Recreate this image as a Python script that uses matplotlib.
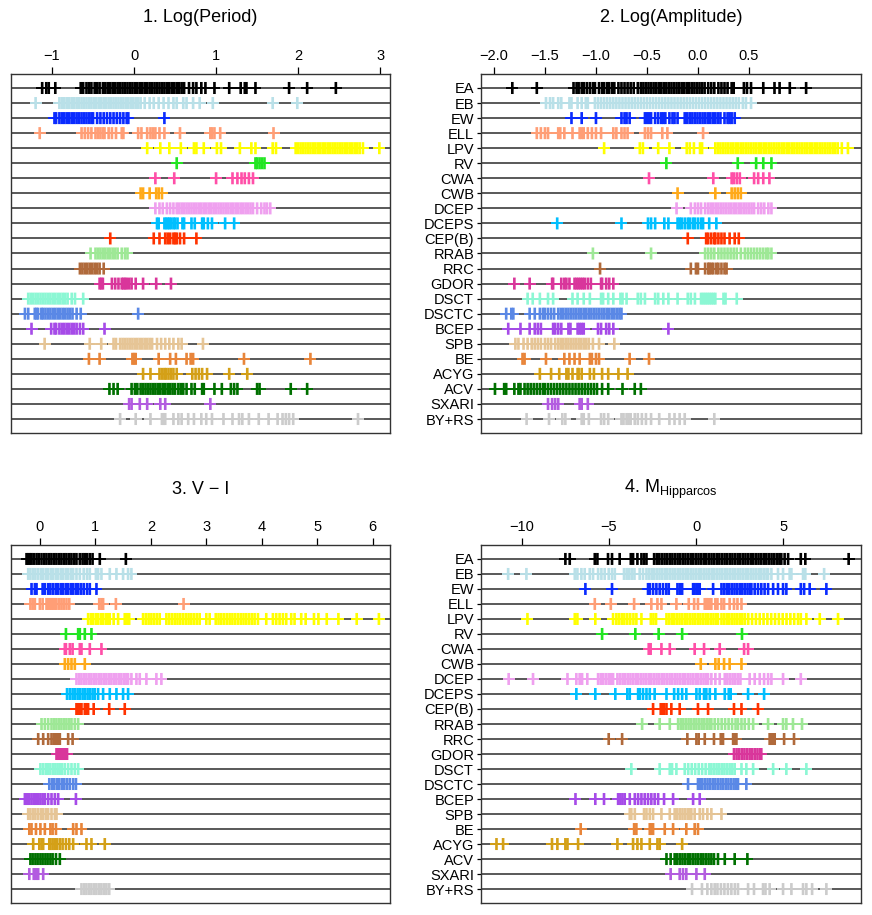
import matplotlib
matplotlib.use('Agg')
import matplotlib.pyplot as plt

plt.rcParams['font.family'] = ['Liberation Sans', 'DejaVu Sans']

classes = ["EA", "EB", "EW", "ELL", "LPV", "RV", "CWA", "CWB", "DCEP", "DCEPS",
           "CEP(B)", "RRAB", "RRC", "GDOR", "DSCT", "DSCTC", "BCEP", "SPB", "BE",
           "ACYG", "ACV", "SXARI", "BY+RS"]
colors = ["#000000", "#B9E0E8", "#0A2BFF", "#FF9E76", "#FFFF00", "#22E622",
          "#FF4FA8", "#FFAA1A", "#EFA0EF", "#00BFFF", "#FF3300", "#9EE896",
          "#B06A3B", "#D9369B", "#8CF7D4", "#5A88E6", "#A64BE8", "#E6C596",
          "#E8853A", "#D4A017", "#007000", "#B35CE0", "#CCCCCC"]

# 1. Log(Period) -- one list per class, same order as `classes`
log_period = [
    [-1.12, -1.07, -1.04, -0.96, -0.65, -0.62, -0.58, -0.55, -0.52, -0.48, -0.45, -0.42, -0.38, -0.35, -0.32,
     -0.29, -0.26, -0.23, -0.20, -0.17, -0.14, -0.11, -0.08, -0.05, -0.02, 0.01, 0.04, 0.07, 0.10, 0.13, 0.16,
     0.19, 0.22, 0.25, 0.28, 0.31, 0.34, 0.37, 0.40, 0.43, 0.46, 0.49, 0.52, 0.55, 0.58, 0.61, 0.67, 0.72, 0.76,
     0.82, 0.87, 0.98, 1.16, 1.30, 1.35, 1.37, 1.48, 1.89, 2.11, 2.46],
    [-1.20, -0.91, -0.88, -0.85, -0.82, -0.79, -0.76, -0.73, -0.70, -0.67, -0.64, -0.61, -0.58, -0.55, -0.52,
     -0.49, -0.46, -0.43, -0.40, -0.37, -0.34, -0.31, -0.28, -0.25, -0.22, -0.19, -0.16, -0.13, -0.10, -0.07,
     -0.04, -0.01, 0.02, 0.05, 0.08, 0.13, 0.19, 0.24, 0.30, 0.36, 0.42, 0.48, 0.52, 0.60, 0.64, 0.72, 0.80,
     0.96, 1.69, 1.99],
    [-0.97, -0.95, -0.91, -0.88, -0.85, -0.82, -0.79, -0.76, -0.73, -0.70, -0.67, -0.64, -0.61, -0.58, -0.55,
     -0.52, -0.50, -0.45, -0.41, -0.37, -0.33, -0.29, -0.25, -0.21, -0.17, -0.13, -0.09, -0.07, 0.37],
    [-1.15, -0.64, -0.60, -0.56, -0.52, -0.47, -0.44, -0.41, -0.38, -0.36, -0.31, -0.27, -0.22, -0.15, -0.13,
     0.05, 0.09, 0.16, 0.20, 0.23, 0.26, 0.31, 0.37, 0.56, 0.93, 0.95, 0.98, 1.05, 1.70],
    [0.16, 0.32, 0.43, 0.57, 0.73, 0.76, 0.85, 1.01, 1.06, 1.29, 1.43, 1.48, 1.69, 1.73, 1.97, 2.00, 2.03, 2.06,
     2.09, 2.12, 2.15, 2.18, 2.21, 2.24, 2.27, 2.30, 2.33, 2.36, 2.39, 2.42, 2.45, 2.48, 2.51, 2.54, 2.57, 2.60,
     2.63, 2.66, 2.69, 2.72, 2.75, 2.79, 2.99],
    [0.52, 1.48, 1.50, 1.53, 1.56, 1.59],
    [0.26, 0.49, 1.00, 1.20, 1.26, 1.31, 1.35, 1.40, 1.45],
    [0.08, 0.11, 0.19, 0.27, 0.30, 0.34],
    [0.26, 0.31, 0.35, 0.40, 0.44, 0.48, 0.52, 0.55, 0.58, 0.61, 0.64, 0.67, 0.70, 0.73, 0.76, 0.79, 0.82, 0.85,
     0.88, 0.91, 0.94, 0.97, 1.00, 1.03, 1.06, 1.09, 1.12, 1.15, 1.18, 1.21, 1.24, 1.27, 1.30, 1.33, 1.36, 1.39,
     1.42, 1.45, 1.50, 1.55, 1.59, 1.62, 1.66],
    [0.28, 0.30, 0.37, 0.39, 0.41, 0.43, 0.45, 0.48, 0.50, 0.53, 0.59, 0.61, 0.70, 0.74, 0.83, 0.85, 0.90, 0.95,
     1.11, 1.22],
    [-0.29, 0.24, 0.31, 0.38, 0.41, 0.44, 0.48, 0.50, 0.52, 0.56, 0.61, 0.76],
    [-0.53, -0.47, -0.44, -0.41, -0.38, -0.35, -0.32, -0.29, -0.26, -0.23, -0.20, -0.15, -0.11, -0.08],
    [-0.66, -0.63, -0.60, -0.57, -0.54, -0.51, -0.48, -0.45, -0.42, -0.37],
    [-0.42, -0.40, -0.38, -0.27, -0.23, -0.19, -0.15, -0.13, -0.11, -0.09, -0.06, -0.03, 0.02, 0.11, 0.27, 0.45],
    [-1.29, -1.26, -1.23, -1.20, -1.17, -1.14, -1.11, -1.08, -1.05, -1.02, -0.99, -0.96, -0.93, -0.90, -0.87,
     -0.84, -0.81, -0.76, -0.72, -0.62],
    [-1.33, -1.29, -1.21, -1.19, -1.17, -1.13, -1.11, -1.08, -1.05, -1.02, -0.99, -0.96, -0.93, -0.90, -0.87,
     -0.84, -0.81, -0.78, -0.75, -0.70, -0.65, 0.05],
    [-1.25, -1.01, -0.97, -0.95, -0.91, -0.88, -0.85, -0.82, -0.79, -0.76, -0.73, -0.70, -0.66, -0.62, -0.36],
    [-1.09, -0.54, -0.40, -0.25, -0.22, -0.17, -0.14, -0.11, -0.08, -0.05, -0.02, 0.01, 0.04, 0.07, 0.10, 0.13,
     0.16, 0.19, 0.22, 0.28, 0.33, 0.38, 0.43, 0.48, 0.54, 0.58, 0.84],
    [-0.55, -0.42, -0.02, 0.00, 0.02, 0.30, 0.44, 0.51, 0.64, 0.69, 0.72, 1.34, 2.15],
    [0.11, 0.20, 0.31, 0.34, 0.37, 0.39, 0.42, 0.45, 0.48, 0.52, 0.71, 0.75, 0.79, 0.83, 0.89, 1.16, 1.38],
    [-0.30, -0.25, -0.20, -0.03, 0.01, 0.04, 0.08, 0.11, 0.14, 0.17, 0.20, 0.23, 0.26, 0.29, 0.32, 0.35, 0.38,
     0.41, 0.44, 0.47, 0.50, 0.54, 0.57, 0.60, 0.64, 0.70, 0.74, 0.83, 0.85, 0.98, 1.07, 1.18, 1.22, 1.26, 1.50,
     1.53, 1.91, 2.11],
    [-0.06, -0.03, 0.07, 0.16, 0.32, 0.38, 0.93],
    [-0.17, 0.02, 0.20, 0.34, 0.36, 0.38, 0.48, 0.54, 0.58, 0.66, 0.73, 0.82, 0.88, 0.95, 1.09, 1.20, 1.28, 1.32,
     1.40, 1.52, 1.64, 1.75, 1.81, 1.85, 1.89, 1.94, 2.73],
]

# 2. Log(Amplitude)
log_amplitude = [
    [-1.82, -1.58, -1.22, -1.19, -1.17, -1.14, -1.12, -1.09, -1.06, -1.03, -1.01, -0.97, -0.94, -0.92, -0.89,
     -0.87, -0.84, -0.82, -0.78, -0.75, -0.72, -0.69, -0.66, -0.63, -0.59, -0.56, -0.535, -0.51, -0.485, -0.46,
     -0.435, -0.41, -0.385, -0.36, -0.335, -0.31, -0.285, -0.26, -0.235, -0.21, -0.185, -0.16, -0.135, -0.11,
     -0.085, -0.06, -0.035, -0.01, 0.015, 0.04, 0.065, 0.10, 0.13, 0.16, 0.20, 0.23, 0.26, 0.29, 0.33, 0.35,
     0.45, 0.48, 0.52, 0.64, 0.75, 0.80, 0.90, 1.06],
    [-1.49, -1.45, -1.42, -1.37, -1.34, -1.26, -1.24, -1.18, -1.14, -1.10, -1.08, -1.01, -0.98, -0.95, -0.92,
     -0.89, -0.86, -0.83, -0.80, -0.77, -0.74, -0.71, -0.68, -0.65, -0.62, -0.59, -0.56, -0.53, -0.50, -0.47,
     -0.44, -0.41, -0.38, -0.35, -0.32, -0.29, -0.26, -0.23, -0.20, -0.17, -0.14, -0.11, -0.08, -0.05, -0.02,
     0.01, 0.04, 0.07, 0.10, 0.13, 0.16, 0.19, 0.22, 0.25, 0.28, 0.31, 0.34, 0.37, 0.40, 0.44, 0.47, 0.52],
    [-1.24, -1.14, -1.00, -0.75, -0.72, -0.70, -0.67, -0.52, -0.50, -0.48, -0.46, -0.42, -0.39, -0.36, -0.34,
     -0.32, -0.28, -0.25, -0.23, -0.20, -0.13, -0.105, -0.08, -0.055, -0.03, -0.005, 0.02, 0.045, 0.07, 0.095,
     0.12, 0.145, 0.17, 0.195, 0.22, 0.26, 0.29, 0.31, 0.33, 0.36],
    [-1.58, -1.54, -1.50, -1.47, -1.37, -1.35, -1.31, -1.23, -1.16, -1.14, -1.12, -1.08, -1.04, -1.00, -0.95,
     -0.83, -0.80, -0.75, -0.72, -0.69, -0.52, -0.49, -0.46, -0.35, -0.30, 0.05],
    [-0.92, -0.57, -0.54, -0.39, -0.28, -0.11, -0.08, -0.04, 0.02, 0.04, 0.17, 0.195, 0.22, 0.245, 0.27, 0.295,
     0.32, 0.345, 0.37, 0.395, 0.42, 0.445, 0.47, 0.495, 0.52, 0.545, 0.57, 0.595, 0.62, 0.645, 0.67, 0.695,
     0.72, 0.745, 0.77, 0.795, 0.82, 0.845, 0.87, 0.895, 0.92, 0.945, 0.97, 0.995, 1.02, 1.045, 1.07, 1.095,
     1.12, 1.145, 1.17, 1.195, 1.22, 1.245, 1.27, 1.295, 1.32, 1.345, 1.37, 1.41, 1.47],
    [-0.31, 0.39, 0.57, 0.64, 0.72],
    [-0.48, 0.15, 0.33, 0.35, 0.38, 0.41, 0.55, 0.59, 0.64, 0.70],
    [-0.20, 0.17, 0.33, 0.36, 0.39, 0.42],
    [-0.21, -0.07, -0.03, 0.00, 0.03, 0.07, 0.10, 0.125, 0.15, 0.175, 0.20, 0.225, 0.25, 0.275, 0.30, 0.325,
     0.35, 0.375, 0.40, 0.425, 0.45, 0.475, 0.50, 0.525, 0.55, 0.59, 0.62, 0.65, 0.69, 0.72],
    [-1.38, -0.75, -0.49, -0.46, -0.42, -0.33, -0.29, -0.20, -0.18, -0.16, -0.13, -0.10, -0.08, -0.05, -0.03,
     0.00, 0.03, 0.05, 0.11, 0.18],
    [-0.10, 0.08, 0.10, 0.13, 0.16, 0.17, 0.20, 0.23, 0.26, 0.31, 0.36, 0.40],
    [-1.03, -0.46, 0.07, 0.10, 0.13, 0.16, 0.20, 0.23, 0.26, 0.29, 0.32, 0.35, 0.38, 0.42, 0.46, 0.49, 0.52,
     0.55, 0.58, 0.61, 0.64, 0.67, 0.69, 0.72],
    [-0.96, -0.07, -0.02, 0.00, 0.07, 0.10, 0.11, 0.13, 0.15, 0.18, 0.20, 0.23, 0.26, 0.28],
    [-1.80, -1.65, -1.43, -1.42, -1.34, -1.31, -1.29, -1.26, -1.21, -1.19, -1.17, -1.15, -1.13, -1.11, -1.08,
     -1.05, -0.95, -0.94, -0.90, -0.87, -0.83],
    [-1.67, -1.62, -1.55, -1.47, -1.42, -1.23, -1.18, -1.12, -1.06, -0.95, -0.93, -0.88, -0.83, -0.76, -0.74,
     -0.70, -0.59, -0.56, -0.52, -0.42, -0.39, -0.34, -0.29, -0.20, -0.10, -0.07, -0.03, 0.03, 0.05, 0.07, 0.09,
     0.11, 0.13, 0.15, 0.17, 0.25, 0.27, 0.38],
    [-1.88, -1.83, -1.81, -1.65, -1.60, -1.55, -1.52, -1.50, -1.47, -1.44, -1.41, -1.37, -1.345, -1.32, -1.295,
     -1.27, -1.245, -1.22, -1.195, -1.17, -1.145, -1.12, -1.095, -1.07, -1.045, -1.02, -0.995, -0.97, -0.945,
     -0.92, -0.895, -0.87, -0.845, -0.82, -0.795, -0.77, -0.75],
    [-1.86, -1.74, -1.65, -1.60, -1.57, -1.54, -1.42, -1.40, -1.37, -1.34, -1.27, -1.25, -1.18, -1.16, -1.14,
     -1.12, -0.98, -0.95, -0.90, -0.87, -0.83, -0.29],
    [-1.79, -1.76, -1.71, -1.67, -1.63, -1.60, -1.57, -1.54, -1.50, -1.47, -1.44, -1.40, -1.37, -1.345, -1.32,
     -1.295, -1.27, -1.245, -1.22, -1.195, -1.17, -1.145, -1.12, -1.095, -1.07, -1.03, -0.97, -0.82],
    [-1.72, -1.70, -1.49, -1.31, -1.26, -1.21, -1.16, -1.06, -1.04, -1.00, -0.97, -0.67, -0.48],
    [-1.55, -1.44, -1.36, -1.29, -1.27, -1.23, -1.18, -1.17, -1.14, -1.06, -1.02, -0.94, -0.88, -0.78, -0.69],
    [-1.99, -1.90, -1.88, -1.80, -1.76, -1.74, -1.70, -1.67, -1.64, -1.61, -1.58, -1.55, -1.52, -1.50, -1.47,
     -1.44, -1.41, -1.38, -1.35, -1.32, -1.29, -1.26, -1.23, -1.20, -1.17, -1.14, -1.11, -1.08, -1.05, -1.02,
     -0.99, -0.94, -0.88, -0.74, -0.62, -0.56],
    [-1.47, -1.43, -1.40, -1.37, -1.16, -1.14, -1.08],
    [-1.68, -1.46, -1.33, -1.30, -1.14, -1.12, -1.07, -0.95, -0.92, -0.88, -0.75, -0.73, -0.70, -0.68, -0.66,
     -0.62, -0.59, -0.55, -0.51, -0.46, -0.38, -0.28, -0.23, -0.18, -0.13, 0.16],
]

# 3. V - I colour
v_minus_i = [
    [-0.24, -0.21, -0.18, -0.15, -0.11, -0.06, -0.02, 0.03, 0.08, 0.12, 0.17, 0.21, 0.26, 0.30, 0.35, 0.39,
     0.44, 0.48, 0.53, 0.57, 0.62, 0.66, 0.72, 0.77, 0.81, 0.85, 0.90, 0.95, 1.08, 1.55],
    [-0.21, -0.17, -0.12, -0.08, -0.03, 0.02, 0.06, 0.11, 0.15, 0.20, 0.24, 0.29, 0.33, 0.38, 0.42, 0.47, 0.51,
     0.56, 0.60, 0.66, 0.72, 0.79, 0.85, 0.90, 1.01, 1.05, 1.11, 1.26, 1.38, 1.50, 1.59, 1.65],
    [-0.15, -0.09, -0.06, 0.05, 0.09, 0.15, 0.19, 0.24, 0.29, 0.33, 0.38, 0.42, 0.47, 0.51, 0.56, 0.60, 0.65,
     0.69, 0.74, 0.79, 0.85, 0.90, 1.02],
    [-0.17, -0.13, -0.09, 0.00, 0.05, 0.12, 0.15, 0.18, 0.21, 0.24, 0.27, 0.30, 0.35, 0.39, 0.43, 0.48, 0.53,
     1.07, 1.11, 1.14, 1.37, 2.59],
    [0.87, 0.92, 0.96, 1.01, 1.05, 1.10, 1.14, 1.19, 1.23, 1.26, 1.33, 1.41, 1.53, 1.57, 1.61, 1.86, 1.91, 1.96,
     2.01, 2.06, 2.11, 2.16, 2.28, 2.33, 2.38, 2.43, 2.48, 2.53, 2.58, 2.63, 2.68, 2.73, 2.78, 2.83, 2.88, 3.00,
     3.06, 3.17, 3.22, 3.27, 3.32, 3.37, 3.42, 3.47, 3.52, 3.57, 3.62, 3.67, 3.72, 3.77, 3.82, 3.87, 3.93, 4.08,
     4.20, 4.26, 4.32, 4.38, 4.44, 4.53, 4.59, 4.71, 4.79, 4.94, 5.02, 5.17, 5.38, 5.71, 6.11],
    [0.47, 0.69, 0.72, 0.81, 0.93],
    [0.45, 0.47, 0.54, 0.59, 0.72, 0.75, 0.90, 1.11],
    [0.45, 0.51, 0.57, 0.63, 0.81],
    [0.66, 0.71, 0.75, 0.80, 0.84, 0.89, 0.93, 0.98, 1.02, 1.07, 1.11, 1.16, 1.20, 1.25, 1.29, 1.34, 1.38, 1.43,
     1.47, 1.52, 1.56, 1.59, 1.65, 1.74, 1.80, 1.92, 2.10, 2.19],
    [0.49, 0.54, 0.59, 0.63, 0.68, 0.72, 0.77, 0.81, 0.86, 0.90, 0.95, 0.99, 1.05, 1.14, 1.26, 1.38, 1.50, 1.59],
    [0.66, 0.69, 0.72, 0.75, 0.81, 0.84, 0.87, 0.97, 1.25, 1.53],
    [0.03, 0.09, 0.15, 0.21, 0.26, 0.30, 0.35, 0.39, 0.44, 0.48, 0.53, 0.57, 0.63, 0.69],
    [-0.03, 0.06, 0.15, 0.21, 0.25, 0.29, 0.33, 0.36, 0.51, 0.59],
    [0.30, 0.33, 0.36, 0.39, 0.42, 0.45, 0.49],
    [0.01, 0.06, 0.11, 0.15, 0.19, 0.24, 0.28, 0.32, 0.36, 0.40, 0.45, 0.51, 0.57, 0.63, 0.69],
    [0.17, 0.22, 0.26, 0.31, 0.35, 0.40, 0.44, 0.49, 0.54, 0.60, 0.65],
    [-0.27, -0.23, -0.19, -0.15, -0.11, -0.07, -0.03, 0.01, 0.05, 0.09, 0.15, 0.21, 0.27, 0.33, 0.65],
    [-0.21, -0.17, -0.12, -0.08, -0.03, 0.02, 0.06, 0.11, 0.15, 0.21, 0.27, 0.30],
    [-0.19, -0.15, -0.07, 0.01, 0.09, 0.19, 0.23, 0.29, 0.60, 0.66, 0.75],
    [-0.12, -0.01, 0.03, 0.06, 0.17, 0.19, 0.23, 0.27, 0.31, 0.36, 0.41, 0.47, 0.53, 0.60, 0.84, 0.93, 1.17],
    [-0.17, -0.13, -0.08, -0.04, 0.01, 0.05, 0.10, 0.14, 0.19, 0.23, 0.29, 0.36],
    [-0.19, -0.11, -0.07, -0.03, 0.06],
    [0.75, 0.80, 0.84, 0.89, 0.93, 0.98, 1.02, 1.07, 1.11, 1.16, 1.20, 1.25],
]

# 4. M_Hipparcos (absolute magnitude)
abs_mag = [
    [-7.51, -7.26, -5.82, -5.67, -5.06, -4.83, -4.39, -3.75, -3.62, -3.37, -3.14, -2.99, -2.85, -2.41, -2.26,
     -2.11, -1.96, -1.81, -1.66, -1.51, -1.36, -1.21, -1.06, -0.91, -0.76, -0.61, -0.46, -0.31, -0.16, -0.01,
     0.14, 0.29, 0.44, 0.59, 0.74, 0.89, 1.04, 1.19, 1.34, 1.49, 1.64, 1.79, 1.94, 2.09, 2.24, 2.39, 2.54, 2.69,
     2.84, 2.99, 3.14, 3.29, 3.44, 3.59, 3.74, 3.89, 4.04, 4.19, 4.34, 4.49, 4.64, 4.79, 4.90, 5.09, 5.29, 6.02,
     6.28, 8.77],
    [-10.80, -9.75, -6.97, -6.82, -6.59, -6.40, -6.11, -5.92, -5.63, -5.44, -5.25, -5.02, -4.83, -4.67, -4.14,
     -3.99, -3.84, -3.69, -3.54, -3.24, -3.05, -2.85, -2.70, -2.55, -2.40, -2.25, -2.10, -1.95, -1.80, -1.65,
     -1.50, -1.35, -1.20, -1.05, -0.90, -0.75, -0.60, -0.45, -0.30, -0.15, 0.00, 0.15, 0.30, 0.45, 0.60, 0.75,
     0.90, 1.05, 1.20, 1.35, 1.50, 1.65, 1.80, 1.95, 2.10, 2.25, 2.40, 2.55, 2.70, 2.85, 3.00, 3.15, 3.30, 3.45,
     3.60, 3.75, 3.90, 4.05, 4.14, 4.33, 4.71, 5.00, 5.38, 5.48, 6.15, 6.28, 7.36],
    [-6.36, -4.83, -2.76, -2.66, -2.47, -2.28, -2.09, -1.90, -1.71, -1.57, -1.07, -0.94, -0.80, -0.17, -0.10,
     0.02, 0.10, 0.21, 0.98, 1.46, 1.61, 1.76, 1.91, 2.06, 2.21, 2.36, 2.51, 2.66, 2.81, 2.96, 3.11, 3.18, 3.37,
     3.56, 3.75, 3.94, 4.14, 4.43, 4.71, 5.00, 5.19, 6.02, 6.21, 6.53, 7.49],
    [-5.82, -4.90, -3.56, -2.57, -2.22, -1.99, -1.13, -0.42, -0.11, 0.11, 0.50, 0.60, 0.69, 0.79, 0.88, 1.11,
     1.23, 1.46, 1.61, 1.93, 2.18, 2.38, 2.61],
    [-9.69, -6.97, -6.82, -5.79, -4.77, -4.58, -4.43, -4.27, -4.12, -3.95, -3.78, -3.60, -3.43, -3.14, -2.60,
     -2.45, -2.30, -1.70, -1.55, -1.40, -1.25, -1.10, -0.95, -0.80, -0.65, -0.50, -0.35, -0.20, -0.05, 0.10,
     0.25, 0.40, 0.55, 0.70, 0.85, 1.00, 1.15, 1.26, 1.46, 1.61, 1.76, 1.91, 2.06, 2.21, 2.36, 2.51, 2.66, 2.81,
     3.00, 3.22, 3.44, 3.66, 3.88, 4.10, 4.32, 4.54, 4.76, 4.98, 5.20, 5.42, 5.64, 5.86, 6.02, 6.34, 7.11, 8.16],
    [-5.40, -3.49, -2.15, -0.80, 2.64],
    [-2.72, -2.61, -1.99, -1.51, -0.08, 0.46, 1.36, 2.76, 2.99],
    [0.27, 1.11, 1.30, 1.61, 1.93, 2.61],
    [-10.77, -9.37, -7.39, -6.88, -6.69, -6.55, -6.25, -5.63, -5.48, -5.33, -5.17, -5.02, -4.87, -4.77, -4.52,
     -4.37, -4.22, -4.07, -3.92, -3.77, -3.62, -3.47, -3.32, -3.17, -3.02, -2.87, -2.72, -2.57, -2.42, -2.27,
     -2.12, -1.97, -1.82, -1.67, -1.52, -1.37, -1.22, -1.07, -0.92, -0.77, -0.62, -0.47, -0.32, -0.17, -0.02,
     0.13, 0.28, 0.43, 0.58, 0.69, 0.88, 1.11, 1.36, 1.65, 1.80, 1.95, 2.10, 2.25, 2.40, 2.55, 3.08, 3.37, 3.66,
     3.91, 4.14, 4.33, 5.00, 6.02],
    [-6.88, -5.79, -4.64, -3.95, -3.81, -3.33, -3.24, -3.05, -2.85, -2.66, -2.38, -1.70, -1.26, -1.03, -0.80,
     -0.56, 0.02, 0.21, 0.46, 0.59, 0.79, 1.11, 1.65, 1.88, 1.99, 2.99, 3.91],
    [-2.47, -2.03, -1.95, -1.84, -1.70, -1.42, -0.94, 0.11, 0.69, 2.18, 2.61, 3.56],
    [-3.10, -2.09, -1.51, -1.03, -0.88, -0.73, -0.58, -0.43, -0.28, -0.13, 0.02, 0.17, 0.32, 0.47, 0.62, 0.77,
     0.88, 1.07, 1.27, 1.47, 1.67, 1.87, 2.07, 2.27, 2.41, 2.61, 2.80, 3.03, 3.28, 4.14, 5.00, 5.19, 5.57, 6.09],
    [-5.02, -4.25, -0.50, 0.02, 0.15, 0.50, 1.03, 1.42, 1.55, 2.13, 2.22, 2.32, 4.23, 4.33, 4.43, 4.52, 5.06,
     5.63],
    [2.18, 2.33, 2.48, 2.63, 2.78, 2.93, 3.08, 3.23, 3.38, 3.53, 3.68, 3.75],
    [-3.72, -2.09, -1.51, -1.38, -1.13, -0.65, -0.45, -0.25, -0.05, 0.15, 0.35, 0.55, 0.75, 0.88, 1.03, 1.18,
     1.33, 1.48, 1.63, 1.78, 1.93, 2.08, 2.22, 2.61, 2.89, 3.28, 4.43, 5.19, 6.34],
    [-0.46, 0.11, 0.21, 0.36, 0.51, 0.66, 0.81, 0.96, 1.11, 1.26, 1.41, 1.56, 1.71, 1.86, 2.01, 2.16, 2.31,
     2.41, 2.89],
    [-6.93, -5.79, -5.29, -4.48, -4.35, -4.23, -4.10, -3.81, -3.52, -3.33, -3.14, -2.95, -2.76, -2.57, -2.38,
     -2.18, -1.84, -1.32, -0.17, 0.21],
    [-3.81, -3.72, -3.52, -2.99, -2.85, -2.66, -2.47, -1.99, -1.51, -1.23, -1.08, -0.93, -0.78, -0.63, -0.48,
     -0.33, -0.27, -0.08, 0.21, 0.40, 0.65, 0.88, 1.46],
    [-6.63, -3.56, -3.43, -2.66, -2.57, -2.47, -1.80, -1.32, -0.56, -0.08, 0.11],
    [-11.47, -11.09, -8.28, -7.97, -7.51, -7.39, -6.78, -4.52, -3.62, -3.37, -3.14, -2.66, -2.22, -2.09, -0.80],
    [-1.70, -1.46, -1.23, -1.08, -0.93, -0.78, -0.63, -0.48, -0.33, -0.18, -0.03, 0.12, 0.27, 0.42, 0.57, 0.72,
     0.88, 1.03, 1.26, 1.65, 2.22, 2.95],
    [-1.46, -0.94, -0.75, -0.56, 0.02, 0.50],
    [-0.23, 0.34, 0.65, 0.88, 1.07, 1.23, 1.43, 1.63, 1.83, 2.03, 2.23, 2.41, 2.99, 3.33, 3.85, 3.99, 4.23,
     5.00, 5.48, 6.15, 6.34, 6.67, 7.49],
]

titles = ["1. Log(Period)", "2. Log(Amplitude)", "3. V \u2212 I",
          "4. M$_{\\mathregular{Hipparcos}}$"]
xtick_vals = [[-1, 0, 1, 2, 3],
              [-2.0, -1.5, -1.0, -0.5, 0.0, 0.5],
              [0, 1, 2, 3, 4, 5, 6],
              [-10, -5, 0, 5]]
xtick_labels = [["\u22121", "0", "1", "2", "3"],
                ["\u22122.0", "\u22121.5", "\u22121.0", "\u22120.5", "0.0", "0.5"],
                ["0", "1", "2", "3", "4", "5", "6"],
                ["\u221210", "\u22125", "0", "5"]]
xlims = [(-1.50, 3.12), (-2.127, 1.598), (-0.52, 6.31), (-12.36, 9.48)]
panels = [log_period, log_amplitude, v_minus_i, abs_mag]

W, H = 872, 915
fig = plt.figure(figsize=(W / 100, H / 100), dpi=100)

# panel boxes in pixels: left, right, top, bottom
boxes = [(11, 390, 74, 433), (481, 861, 74, 433), (11, 390, 545, 903), (481, 861, 545, 903)]
title_y = [18, 18, 489, 489]

n = len(classes)
for k in range(4):
    l, r, t, b = boxes[k]
    ax = fig.add_axes([l / W, 1 - b / H, (r - l) / W, (b - t) / H])
    data = panels[k]
    for i in range(n):
        ax.axhline(i, color='#2b2b2b', lw=1.1, zorder=1)
        vals = data[i]
        # horizontal arm of the "+" glyph
        ax.plot(vals, [i] * len(vals), ls='none', marker='_', ms=8.5, mew=1.4,
                color=colors[i], zorder=2)
        # vertical stroke, unsnapped so dense runs merge into blocks
        ax.vlines(vals, i - 0.4, i + 0.4, colors=colors[i], lw=1.9, zorder=3,
                  snap=False, antialiased=True)
    ax.set_xlim(*xlims[k])
    ax.set_ylim(n - 1 + 0.93, -0.93)
    ax.xaxis.tick_top()
    ax.set_xticks(xtick_vals[k])
    ax.set_xticklabels(xtick_labels[k])
    ax.tick_params(axis='x', length=5, width=0.9, pad=3, labelsize=10.5, colors='black')
    if k % 2 == 1:
        ax.set_yticks(range(n))
        ax.set_yticklabels(classes)
        ax.tick_params(axis='y', length=3, width=0.9, pad=2, labelsize=10.5)
    else:
        ax.set_yticks([])
    for s in ax.spines.values():
        s.set_color('#333333')
        s.set_linewidth(1.0)
    fig.text((l + r) / 2 / W, 1 - title_y[k] / H, titles[k], ha='center', va='center', fontsize=13)

fig.savefig('out.png', dpi=100)
